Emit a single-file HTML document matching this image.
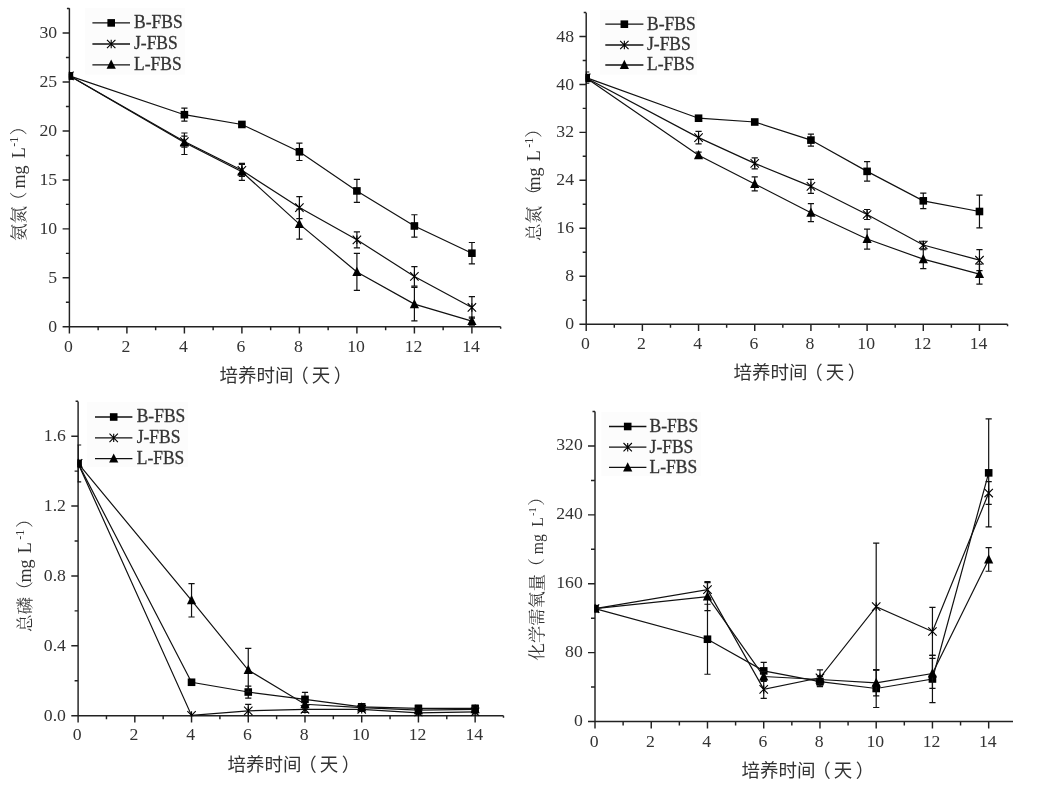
<!DOCTYPE html>
<html lang="zh"><head><meta charset="utf-8"><title>FBS</title>
<style>html,body{margin:0;padding:0;background:#fff}svg{display:block}</style></head>
<body>
<svg width="1037" height="793" viewBox="0 0 1037 793">
<rect width="1037" height="793" fill="#fff"/>
<rect x="85" y="8.2" width="100" height="66.5" fill="#fcfcfc"/>
<path d="M69.4 8.2L69.4 326.8L500.65 326.8M69.4 326.8l0 6.8M98.15 326.8l0 3.5M126.9 326.8l0 6.8M155.65 326.8l0 3.5M184.4 326.8l0 6.8M213.15 326.8l0 3.5M241.9 326.8l0 6.8M270.65 326.8l0 3.5M299.4 326.8l0 6.8M328.15 326.8l0 3.5M356.9 326.8l0 6.8M385.65 326.8l0 3.5M414.4 326.8l0 6.8M443.15 326.8l0 3.5M471.9 326.8l0 6.8M500.65 326.8l0 2.0M69.4 326.8l-6.8 0M69.4 302.32l-3.5 0M69.4 277.84l-6.8 0M69.4 253.35l-3.5 0M69.4 228.87l-6.8 0M69.4 204.39l-3.5 0M69.4 179.91l-6.8 0M69.4 155.42l-3.5 0M69.4 130.94l-6.8 0M69.4 106.46l-3.5 0M69.4 81.98l-6.8 0M69.4 57.49l-3.5 0M69.4 33.01l-6.8 0M69.4 8.53l-2.5 0" stroke="#222222" stroke-width="1.45" fill="none"/>
<g font-family='"Liberation Serif", "Noto Serif CJK SC", serif' font-size="17.7" fill="#333333">
<text x="68.5" y="351.9" text-anchor="middle">0</text>
<text x="126" y="351.9" text-anchor="middle">2</text>
<text x="183.5" y="351.9" text-anchor="middle">4</text>
<text x="241" y="351.9" text-anchor="middle">6</text>
<text x="298.5" y="351.9" text-anchor="middle">8</text>
<text x="356" y="351.9" text-anchor="middle">10</text>
<text x="413.5" y="351.9" text-anchor="middle">12</text>
<text x="471" y="351.9" text-anchor="middle">14</text>
<text x="57.2" y="331.9" text-anchor="end">0</text>
<text x="57.2" y="282.94" text-anchor="end">5</text>
<text x="57.2" y="233.97" text-anchor="end">10</text>
<text x="57.2" y="185.01" text-anchor="end">15</text>
<text x="57.2" y="136.04" text-anchor="end">20</text>
<text x="57.2" y="87.08" text-anchor="end">25</text>
<text x="57.2" y="38.11" text-anchor="end">30</text>
</g>
<text x="219.5" y="382.3" font-family='"Liberation Sans", "Noto Sans CJK SC", sans-serif' font-size="18.5" fill="#333333">培养时间<tspan dx="-3.2">（</tspan><tspan dx="2.8">天</tspan><tspan dx="3.6">）</tspan></text>
<text transform="translate(25 241) rotate(-90)" font-family='"Liberation Serif", "Noto Serif CJK SC", serif' font-size="17.6" fill="#333333"><tspan x="0">氨氮</tspan><tspan x="31.7">（</tspan><tspan x="52.5" font-size="18">mg</tspan><tspan x="82.8" font-size="18">L</tspan><tspan x="94.2" font-size="12" dy="-7">-1</tspan><tspan x="105.7" dy="7">）</tspan></text>
<clipPath id="c1"><rect x="68.8" y="-1.8" width="441.25" height="329.2"/></clipPath>
<g clip-path="url(#c1)">
<path d="M184.4 108.2L184.4 121.2M181.3 108.2l6.2 0M181.3 121.2l6.2 0M241.9 122.46L241.9 126.46M238.8 122.46l6.2 0M238.8 126.46l6.2 0M299.4 143.08L299.4 160.48M296.3 143.08l6.2 0M296.3 160.48l6.2 0M356.9 179.42L356.9 202.42M353.8 179.42l6.2 0M353.8 202.42l6.2 0M414.4 214.76L414.4 237.16M411.3 214.76l6.2 0M411.3 237.16l6.2 0M471.9 242.49L471.9 263.89M468.8 242.49l6.2 0M468.8 263.89l6.2 0" stroke="#111111" stroke-width="1.2" fill="none"/>
<path d="M69.4 75.85L184.4 114.7L241.9 124.46L299.4 151.78L356.9 190.92L414.4 225.96L471.9 253.19" stroke="#111111" stroke-width="1.2" fill="none"/>
<rect x="65.6" y="72.05" width="7.6" height="7.6" fill="#000"/>
<rect x="180.6" y="110.9" width="7.6" height="7.6" fill="#000"/>
<rect x="238.1" y="120.66" width="7.6" height="7.6" fill="#000"/>
<rect x="295.6" y="147.98" width="7.6" height="7.6" fill="#000"/>
<rect x="353.1" y="187.12" width="7.6" height="7.6" fill="#000"/>
<rect x="410.6" y="222.16" width="7.6" height="7.6" fill="#000"/>
<rect x="468.1" y="249.39" width="7.6" height="7.6" fill="#000"/>
<path d="M184.4 136.04L184.4 147.04M181.3 136.04l6.2 0M181.3 147.04l6.2 0M241.9 164.33L241.9 176.33M238.8 164.33l6.2 0M238.8 176.33l6.2 0M299.4 196.61L299.4 218.61M296.3 196.61l6.2 0M296.3 218.61l6.2 0M356.9 231.82L356.9 247.82M353.8 231.82l6.2 0M353.8 247.82l6.2 0M414.4 266.72L414.4 286.12M411.3 266.72l6.2 0M411.3 286.12l6.2 0M471.9 296.66L471.9 318.26M468.8 296.66l6.2 0M468.8 318.26l6.2 0" stroke="#111111" stroke-width="1.2" fill="none"/>
<path d="M69.4 75.85L184.4 141.54L241.9 170.33L299.4 207.61L356.9 239.82L414.4 276.42L471.9 307.46" stroke="#111111" stroke-width="1.2" fill="none"/>
<path d="M65.2 71.65L73.6 80.05M65.2 80.05L73.6 71.65M69.4 71.65L69.4 80.05" stroke="#000" stroke-width="1.1" fill="none"/>
<path d="M180.2 137.34L188.6 145.74M180.2 145.74L188.6 137.34M184.4 137.34L184.4 145.74" stroke="#000" stroke-width="1.1" fill="none"/>
<path d="M237.7 166.13L246.1 174.53M237.7 174.53L246.1 166.13M241.9 166.13L241.9 174.53" stroke="#000" stroke-width="1.1" fill="none"/>
<path d="M295.2 203.41L303.6 211.81M295.2 211.81L303.6 203.41M299.4 203.41L299.4 211.81" stroke="#000" stroke-width="1.1" fill="none"/>
<path d="M352.7 235.62L361.1 244.02M352.7 244.02L361.1 235.62M356.9 235.62L356.9 244.02" stroke="#000" stroke-width="1.1" fill="none"/>
<path d="M410.2 272.22L418.6 280.62M410.2 280.62L418.6 272.22M414.4 272.22L414.4 280.62" stroke="#000" stroke-width="1.1" fill="none"/>
<path d="M467.7 303.26L476.1 311.66M467.7 311.66L476.1 303.26M471.9 303.26L471.9 311.66" stroke="#000" stroke-width="1.1" fill="none"/>
<path d="M184.4 133.01L184.4 154.51M181.3 133.01l6.2 0M181.3 154.51l6.2 0M241.9 163.29L241.9 180.29M238.8 163.29l6.2 0M238.8 180.29l6.2 0M299.4 209.11L299.4 239.11M296.3 209.11l6.2 0M296.3 239.11l6.2 0M356.9 253.43L356.9 290.43M353.8 253.43l6.2 0M353.8 290.43l6.2 0M414.4 287.34L414.4 320.94M411.3 287.34l6.2 0M411.3 320.94l6.2 0M471.9 317.12L471.9 325.12M468.8 317.12l6.2 0M468.8 325.12l6.2 0" stroke="#111111" stroke-width="1.2" fill="none"/>
<path d="M69.4 75.85L184.4 142.51L241.9 171.79L299.4 224.11L356.9 271.93L414.4 304.14L471.9 321.12" stroke="#111111" stroke-width="1.2" fill="none"/>
<path d="M69.4 70.65L74 79.85L64.8 79.85Z" fill="#000"/>
<path d="M184.4 137.31L189 146.51L179.8 146.51Z" fill="#000"/>
<path d="M241.9 166.59L246.5 175.79L237.3 175.79Z" fill="#000"/>
<path d="M299.4 218.91L304 228.11L294.8 228.11Z" fill="#000"/>
<path d="M356.9 266.73L361.5 275.93L352.3 275.93Z" fill="#000"/>
<path d="M414.4 298.94L419 308.14L409.8 308.14Z" fill="#000"/>
<path d="M471.9 315.92L476.5 325.12L467.3 325.12Z" fill="#000"/>
</g>
<g font-family='"Liberation Serif", "Noto Serif CJK SC", serif' font-size="17.5" fill="#333333">
<path d="M92.4 22.9L130 22.9" stroke="#111111" stroke-width="1.3"/>
<rect x="107.4" y="19.1" width="7.6" height="7.6" fill="#000"/>
<text transform="translate(134 28.2) scale(1 1.04)" stroke="#333333" stroke-width="0.3">B-FBS</text>
<path d="M92.4 44.0L130 44.0" stroke="#111111" stroke-width="1.3"/>
<path d="M107 39.8L115.4 48.2M107 48.2L115.4 39.8M111.2 39.8L111.2 48.2" stroke="#000" stroke-width="1.1" fill="none"/>
<text transform="translate(134 49.3) scale(1 1.04)" stroke="#333333" stroke-width="0.3">J-FBS</text>
<path d="M92.4 64.8L130 64.8" stroke="#111111" stroke-width="1.3"/>
<path d="M111.2 59.6L115.8 68.8L106.6 68.8Z" fill="#000"/>
<text transform="translate(134 70.1) scale(1 1.04)" stroke="#333333" stroke-width="0.3">L-FBS</text>
</g>
<rect x="600" y="10.1" width="97" height="64.5" fill="#fcfcfc"/>
<path d="M586.2 12.8L586.2 324.2L1007.55 324.2M586.2 324.2l0 6.8M614.29 324.2l0 3.5M642.38 324.2l0 6.8M670.47 324.2l0 3.5M698.56 324.2l0 6.8M726.65 324.2l0 3.5M754.74 324.2l0 6.8M782.83 324.2l0 3.5M810.92 324.2l0 6.8M839.01 324.2l0 3.5M867.1 324.2l0 6.8M895.19 324.2l0 3.5M923.28 324.2l0 6.8M951.37 324.2l0 3.5M979.46 324.2l0 6.8M1007.55 324.2l0 2.0M586.2 324.2l-6.8 0M586.2 300.22l-3.5 0M586.2 276.24l-6.8 0M586.2 252.26l-3.5 0M586.2 228.28l-6.8 0M586.2 204.3l-3.5 0M586.2 180.32l-6.8 0M586.2 156.34l-3.5 0M586.2 132.36l-6.8 0M586.2 108.38l-3.5 0M586.2 84.4l-6.8 0M586.2 60.42l-3.5 0M586.2 36.44l-6.8 0M586.2 12.46l-2.5 0" stroke="#222222" stroke-width="1.45" fill="none"/>
<g font-family='"Liberation Serif", "Noto Serif CJK SC", serif' font-size="17.7" fill="#333333">
<text x="585.3" y="349.3" text-anchor="middle">0</text>
<text x="641.48" y="349.3" text-anchor="middle">2</text>
<text x="697.66" y="349.3" text-anchor="middle">4</text>
<text x="753.84" y="349.3" text-anchor="middle">6</text>
<text x="810.02" y="349.3" text-anchor="middle">8</text>
<text x="866.2" y="349.3" text-anchor="middle">10</text>
<text x="922.38" y="349.3" text-anchor="middle">12</text>
<text x="978.56" y="349.3" text-anchor="middle">14</text>
<text x="574" y="329.3" text-anchor="end">0</text>
<text x="574" y="281.34" text-anchor="end">8</text>
<text x="574" y="233.38" text-anchor="end">16</text>
<text x="574" y="185.42" text-anchor="end">24</text>
<text x="574" y="137.46" text-anchor="end">32</text>
<text x="574" y="89.5" text-anchor="end">40</text>
<text x="574" y="41.54" text-anchor="end">48</text>
</g>
<text x="733.5" y="379.3" font-family='"Liberation Sans", "Noto Sans CJK SC", sans-serif' font-size="18.5" fill="#333333">培养时间<tspan dx="-3.2">（</tspan><tspan dx="2.8">天</tspan><tspan dx="3.6">）</tspan></text>
<text transform="translate(539.8 241) rotate(-90)" font-family='"Liberation Serif", "Noto Serif CJK SC", serif' font-size="17.6" fill="#333333"><tspan x="0">总氮</tspan><tspan x="37.2">（</tspan><tspan x="50.5" font-size="18">mg</tspan><tspan x="79.8" font-size="18">L</tspan><tspan x="93.2" font-size="12" dy="-7">-1</tspan><tspan x="103.2" dy="7">）</tspan></text>
<clipPath id="c2"><rect x="585.6" y="2.8" width="431.35" height="322"/></clipPath>
<g clip-path="url(#c2)">
<path d="M586.2 72.01L586.2 83.21M583.1 72.01l6.2 0M583.1 83.21l6.2 0M698.56 116.72L698.56 119.72M695.46 116.72l6.2 0M695.46 119.72l6.2 0M754.74 120.5L754.74 123.5M751.64 120.5l6.2 0M751.64 123.5l6.2 0M810.92 134.09L810.92 146.09M807.82 134.09l6.2 0M807.82 146.09l6.2 0M867.1 161.66L867.1 181.06M864 161.66l6.2 0M864 181.06l6.2 0M923.28 193.03L923.28 208.63M920.18 193.03l6.2 0M920.18 208.63l6.2 0M979.46 195.19L979.46 227.79M976.36 195.19l6.2 0M976.36 227.79l6.2 0" stroke="#111111" stroke-width="1.2" fill="none"/>
<path d="M586.2 77.61L698.56 118.22L754.74 122L810.92 140.09L867.1 171.36L923.28 200.83L979.46 211.49" stroke="#111111" stroke-width="1.2" fill="none"/>
<rect x="582.4" y="73.81" width="7.6" height="7.6" fill="#000"/>
<rect x="694.76" y="114.42" width="7.6" height="7.6" fill="#000"/>
<rect x="750.94" y="118.2" width="7.6" height="7.6" fill="#000"/>
<rect x="807.12" y="136.29" width="7.6" height="7.6" fill="#000"/>
<rect x="863.3" y="167.56" width="7.6" height="7.6" fill="#000"/>
<rect x="919.48" y="197.03" width="7.6" height="7.6" fill="#000"/>
<rect x="975.66" y="207.69" width="7.6" height="7.6" fill="#000"/>
<path d="M698.56 131.43L698.56 143.83M695.46 131.43l6.2 0M695.46 143.83l6.2 0M754.74 157.83L754.74 168.83M751.64 157.83l6.2 0M751.64 168.83l6.2 0M810.92 179.33L810.92 193.33M807.82 179.33l6.2 0M807.82 193.33l6.2 0M867.1 209.48L867.1 219.48M864 209.48l6.2 0M864 219.48l6.2 0M923.28 241.23L923.28 248.83M920.18 241.23l6.2 0M920.18 248.83l6.2 0M979.46 249.69L979.46 270.69M976.36 249.69l6.2 0M976.36 270.69l6.2 0" stroke="#111111" stroke-width="1.2" fill="none"/>
<path d="M586.2 77.91L698.56 137.63L754.74 163.33L810.92 186.33L867.1 214.48L923.28 245.03L979.46 260.19" stroke="#111111" stroke-width="1.2" fill="none"/>
<path d="M582 73.71L590.4 82.11M582 82.11L590.4 73.71M586.2 73.71L586.2 82.11" stroke="#000" stroke-width="1.1" fill="none"/>
<path d="M694.36 133.43L702.76 141.83M694.36 141.83L702.76 133.43M698.56 133.43L698.56 141.83" stroke="#000" stroke-width="1.1" fill="none"/>
<path d="M750.54 159.13L758.94 167.53M750.54 167.53L758.94 159.13M754.74 159.13L754.74 167.53" stroke="#000" stroke-width="1.1" fill="none"/>
<path d="M806.72 182.13L815.12 190.53M806.72 190.53L815.12 182.13M810.92 182.13L810.92 190.53" stroke="#000" stroke-width="1.1" fill="none"/>
<path d="M862.9 210.28L871.3 218.68M862.9 218.68L871.3 210.28M867.1 210.28L867.1 218.68" stroke="#000" stroke-width="1.1" fill="none"/>
<path d="M919.08 240.83L927.48 249.23M919.08 249.23L927.48 240.83M923.28 240.83L923.28 249.23" stroke="#000" stroke-width="1.1" fill="none"/>
<path d="M975.26 255.99L983.66 264.39M975.26 264.39L983.66 255.99M979.46 255.99L979.46 264.39" stroke="#000" stroke-width="1.1" fill="none"/>
<path d="M698.56 152.18L698.56 158.18M695.46 152.18l6.2 0M695.46 158.18l6.2 0M754.74 176.93L754.74 190.93M751.64 176.93l6.2 0M751.64 190.93l6.2 0M810.92 203.69L810.92 221.69M807.82 203.69l6.2 0M807.82 221.69l6.2 0M867.1 229.04L867.1 249.04M864 229.04l6.2 0M864 249.04l6.2 0M923.28 249.77L923.28 268.57M920.18 249.77l6.2 0M920.18 268.57l6.2 0M979.46 264.08L979.46 284.08M976.36 264.08l6.2 0M976.36 284.08l6.2 0" stroke="#111111" stroke-width="1.2" fill="none"/>
<path d="M586.2 77.91L698.56 155.18L754.74 183.93L810.92 212.69L867.1 239.04L923.28 259.17L979.46 274.08" stroke="#111111" stroke-width="1.2" fill="none"/>
<path d="M586.2 72.71L590.8 81.91L581.6 81.91Z" fill="#000"/>
<path d="M698.56 149.98L703.16 159.18L693.96 159.18Z" fill="#000"/>
<path d="M754.74 178.73L759.34 187.93L750.14 187.93Z" fill="#000"/>
<path d="M810.92 207.49L815.52 216.69L806.32 216.69Z" fill="#000"/>
<path d="M867.1 233.84L871.7 243.04L862.5 243.04Z" fill="#000"/>
<path d="M923.28 253.97L927.88 263.17L918.68 263.17Z" fill="#000"/>
<path d="M979.46 268.88L984.06 278.08L974.86 278.08Z" fill="#000"/>
</g>
<g font-family='"Liberation Serif", "Noto Serif CJK SC", serif' font-size="17.5" fill="#333333">
<path d="M605.3 24.2L643.4 24.2" stroke="#111111" stroke-width="1.3"/>
<rect x="620.55" y="20.4" width="7.6" height="7.6" fill="#000"/>
<text transform="translate(647 29.5) scale(1 1.04)" stroke="#333333" stroke-width="0.3">B-FBS</text>
<path d="M605.3 45.0L643.4 45.0" stroke="#111111" stroke-width="1.3"/>
<path d="M620.15 40.8L628.55 49.2M620.15 49.2L628.55 40.8M624.35 40.8L624.35 49.2" stroke="#000" stroke-width="1.1" fill="none"/>
<text transform="translate(647 50.3) scale(1 1.04)" stroke="#333333" stroke-width="0.3">J-FBS</text>
<path d="M605.3 65.0L643.4 65.0" stroke="#111111" stroke-width="1.3"/>
<path d="M624.35 59.8L628.95 69L619.75 69Z" fill="#000"/>
<text transform="translate(647 70.3) scale(1 1.04)" stroke="#333333" stroke-width="0.3">L-FBS</text>
</g>
<rect x="87" y="402" width="101" height="65" fill="#fcfcfc"/>
<path d="M78.1 401.5L78.1 715.7L503.5 715.7M78.1 715.7l0 6.8M106.46 715.7l0 3.5M134.82 715.7l0 6.8M163.18 715.7l0 3.5M191.54 715.7l0 6.8M219.9 715.7l0 3.5M248.26 715.7l0 6.8M276.62 715.7l0 3.5M304.98 715.7l0 6.8M333.34 715.7l0 3.5M361.7 715.7l0 6.8M390.06 715.7l0 3.5M418.42 715.7l0 6.8M446.78 715.7l0 3.5M475.14 715.7l0 6.8M503.5 715.7l0 2.0M78.1 715.7l-6.8 0M78.1 680.76l-3.5 0M78.1 645.82l-6.8 0M78.1 610.88l-3.5 0M78.1 575.94l-6.8 0M78.1 541l-3.5 0M78.1 506.06l-6.8 0M78.1 471.12l-3.5 0M78.1 436.18l-6.8 0M78.1 401.24l-2.5 0" stroke="#222222" stroke-width="1.45" fill="none"/>
<g font-family='"Liberation Serif", "Noto Serif CJK SC", serif' font-size="17.7" fill="#333333">
<text x="77.2" y="739.5" text-anchor="middle">0</text>
<text x="133.92" y="739.5" text-anchor="middle">2</text>
<text x="190.64" y="739.5" text-anchor="middle">4</text>
<text x="247.36" y="739.5" text-anchor="middle">6</text>
<text x="304.08" y="739.5" text-anchor="middle">8</text>
<text x="360.8" y="739.5" text-anchor="middle">10</text>
<text x="417.52" y="739.5" text-anchor="middle">12</text>
<text x="474.24" y="739.5" text-anchor="middle">14</text>
<text x="65.9" y="720.8" text-anchor="end">0.0</text>
<text x="65.9" y="650.92" text-anchor="end">0.4</text>
<text x="65.9" y="581.04" text-anchor="end">0.8</text>
<text x="65.9" y="511.16" text-anchor="end">1.2</text>
<text x="65.9" y="441.28" text-anchor="end">1.6</text>
</g>
<text x="227.5" y="771.3" font-family='"Liberation Sans", "Noto Sans CJK SC", sans-serif' font-size="18.5" fill="#333333">培养时间<tspan dx="-3.2">（</tspan><tspan dx="2.8">天</tspan><tspan dx="3.6">）</tspan></text>
<text transform="translate(30.6 632) rotate(-90)" font-family='"Liberation Serif", "Noto Serif CJK SC", serif' font-size="17.6" fill="#333333"><tspan x="0">总磷</tspan><tspan x="33.2">（</tspan><tspan x="49.5" font-size="18">mg</tspan><tspan x="78.8" font-size="18">L</tspan><tspan x="92.2" font-size="12" dy="-7">-1</tspan><tspan x="104.2" dy="7">）</tspan></text>
<clipPath id="c3"><rect x="77.5" y="391.5" width="435.4" height="324.8"/></clipPath>
<g clip-path="url(#c3)">
<path d="M78.1 444.99L78.1 481.79M75 444.99l6.2 0M75 481.79l6.2 0M248.26 686.03L248.26 698.03M245.16 686.03l6.2 0M245.16 698.03l6.2 0M304.98 692.36L304.98 706.36M301.88 692.36l6.2 0M301.88 706.36l6.2 0M361.7 703.85L361.7 709.85M358.6 703.85l6.2 0M358.6 709.85l6.2 0M418.42 705.42L418.42 711.42M415.32 705.42l6.2 0M415.32 711.42l6.2 0M475.14 705.42L475.14 711.42M472.04 705.42l6.2 0M472.04 711.42l6.2 0" stroke="#111111" stroke-width="1.2" fill="none"/>
<path d="M78.1 463.39L191.54 682.26L248.26 692.03L304.98 699.36L361.7 706.85L418.42 708.42L475.14 708.42" stroke="#111111" stroke-width="1.2" fill="none"/>
<rect x="74.3" y="459.59" width="7.6" height="7.6" fill="#000"/>
<rect x="187.74" y="678.46" width="7.6" height="7.6" fill="#000"/>
<rect x="244.46" y="688.23" width="7.6" height="7.6" fill="#000"/>
<rect x="301.18" y="695.56" width="7.6" height="7.6" fill="#000"/>
<rect x="357.9" y="703.05" width="7.6" height="7.6" fill="#000"/>
<rect x="414.62" y="704.62" width="7.6" height="7.6" fill="#000"/>
<rect x="471.34" y="704.62" width="7.6" height="7.6" fill="#000"/>
<path d="M248.26 704.37L248.26 717.37M245.16 704.37l6.2 0M245.16 717.37l6.2 0M304.98 706.3L304.98 712.3M301.88 706.3l6.2 0M301.88 712.3l6.2 0M361.7 707.3L361.7 711.3M358.6 707.3l6.2 0M358.6 711.3l6.2 0M418.42 710.78L418.42 714.78M415.32 710.78l6.2 0M415.32 714.78l6.2 0M475.14 709.91L475.14 713.91M472.04 709.91l6.2 0M472.04 713.91l6.2 0" stroke="#111111" stroke-width="1.2" fill="none"/>
<path d="M78.1 463.39L191.54 715.4L248.26 710.87L304.98 709.3L361.7 709.3L418.42 712.78L475.14 711.91" stroke="#111111" stroke-width="1.2" fill="none"/>
<path d="M73.9 459.19L82.3 467.59M73.9 467.59L82.3 459.19M78.1 459.19L78.1 467.59" stroke="#000" stroke-width="1.1" fill="none"/>
<path d="M187.34 711.2L195.74 719.6M187.34 719.6L195.74 711.2M191.54 711.2L191.54 719.6" stroke="#000" stroke-width="1.1" fill="none"/>
<path d="M244.06 706.67L252.46 715.07M244.06 715.07L252.46 706.67M248.26 706.67L248.26 715.07" stroke="#000" stroke-width="1.1" fill="none"/>
<path d="M300.78 705.1L309.18 713.5M300.78 713.5L309.18 705.1M304.98 705.1L304.98 713.5" stroke="#000" stroke-width="1.1" fill="none"/>
<path d="M357.5 705.1L365.9 713.5M357.5 713.5L365.9 705.1M361.7 705.1L361.7 713.5" stroke="#000" stroke-width="1.1" fill="none"/>
<path d="M414.22 708.58L422.62 716.98M414.22 716.98L422.62 708.58M418.42 708.58L418.42 716.98" stroke="#000" stroke-width="1.1" fill="none"/>
<path d="M470.94 707.71L479.34 716.11M470.94 716.11L479.34 707.71M475.14 707.71L475.14 716.11" stroke="#000" stroke-width="1.1" fill="none"/>
<path d="M191.54 583.6L191.54 617M188.44 583.6l6.2 0M188.44 617l6.2 0M248.26 648.36L248.26 691.76M245.16 648.36l6.2 0M245.16 691.76l6.2 0M304.98 700.24L304.98 708.24M301.88 700.24l6.2 0M301.88 708.24l6.2 0M361.7 704.55L361.7 710.55M358.6 704.55l6.2 0M358.6 710.55l6.2 0M418.42 708.17L418.42 712.17M415.32 708.17l6.2 0M415.32 712.17l6.2 0M475.14 707.3L475.14 711.3M472.04 707.3l6.2 0M472.04 711.3l6.2 0" stroke="#111111" stroke-width="1.2" fill="none"/>
<path d="M78.1 463.39L191.54 600.3L248.26 670.06L304.98 704.24L361.7 707.55L418.42 710.17L475.14 709.3" stroke="#111111" stroke-width="1.2" fill="none"/>
<path d="M78.1 458.19L82.7 467.39L73.5 467.39Z" fill="#000"/>
<path d="M191.54 595.1L196.14 604.3L186.94 604.3Z" fill="#000"/>
<path d="M248.26 664.86L252.86 674.06L243.66 674.06Z" fill="#000"/>
<path d="M304.98 699.04L309.58 708.24L300.38 708.24Z" fill="#000"/>
<path d="M361.7 702.35L366.3 711.55L357.1 711.55Z" fill="#000"/>
<path d="M418.42 704.97L423.02 714.17L413.82 714.17Z" fill="#000"/>
<path d="M475.14 704.1L479.74 713.3L470.54 713.3Z" fill="#000"/>
</g>
<g font-family='"Liberation Serif", "Noto Serif CJK SC", serif' font-size="17.5" fill="#333333">
<path d="M95 417L132.4 417" stroke="#111111" stroke-width="1.3"/>
<rect x="109.9" y="413.2" width="7.6" height="7.6" fill="#000"/>
<text transform="translate(136.7 422.3) scale(1 1.04)" stroke="#333333" stroke-width="0.3">B-FBS</text>
<path d="M95 437.9L132.4 437.9" stroke="#111111" stroke-width="1.3"/>
<path d="M109.5 433.7L117.9 442.1M109.5 442.1L117.9 433.7M113.7 433.7L113.7 442.1" stroke="#000" stroke-width="1.1" fill="none"/>
<text transform="translate(136.7 443.2) scale(1 1.04)" stroke="#333333" stroke-width="0.3">J-FBS</text>
<path d="M95 458.6L132.4 458.6" stroke="#111111" stroke-width="1.3"/>
<path d="M113.7 453.4L118.3 462.6L109.1 462.6Z" fill="#000"/>
<text transform="translate(136.7 463.9) scale(1 1.04)" stroke="#333333" stroke-width="0.3">L-FBS</text>
</g>
<rect x="601.5" y="412" width="99.5" height="64" fill="#fcfcfc"/>
<path d="M595 411.6L595 721.5L1013 721.5M595 721.5l0 7.0M623.12 721.5l0 4.0M651.24 721.5l0 7.0M679.36 721.5l0 4.0M707.48 721.5l0 7.0M735.6 721.5l0 4.0M763.72 721.5l0 7.0M791.84 721.5l0 4.0M819.96 721.5l0 7.0M848.08 721.5l0 4.0M876.2 721.5l0 7.0M904.32 721.5l0 4.0M932.44 721.5l0 7.0M960.56 721.5l0 4.0M988.68 721.5l0 7.0M595 721.5l-7.0 0M595 687.06l-4.0 0M595 652.62l-7.0 0M595 618.18l-4.0 0M595 583.74l-7.0 0M595 549.3l-4.0 0M595 514.86l-7.0 0M595 480.42l-4.0 0M595 445.98l-7.0 0M595 411.54l-2.5 0" stroke="#222222" stroke-width="1.45" fill="none"/>
<g font-family='"Liberation Serif", "Noto Serif CJK SC", serif' font-size="17.7" fill="#333333">
<text x="594.1" y="746.6" text-anchor="middle">0</text>
<text x="650.34" y="746.6" text-anchor="middle">2</text>
<text x="706.58" y="746.6" text-anchor="middle">4</text>
<text x="762.82" y="746.6" text-anchor="middle">6</text>
<text x="819.06" y="746.6" text-anchor="middle">8</text>
<text x="875.3" y="746.6" text-anchor="middle">10</text>
<text x="931.54" y="746.6" text-anchor="middle">12</text>
<text x="987.78" y="746.6" text-anchor="middle">14</text>
<text x="582.8" y="726" text-anchor="end">0</text>
<text x="582.8" y="657.12" text-anchor="end">80</text>
<text x="582.8" y="588.24" text-anchor="end">160</text>
<text x="582.8" y="519.36" text-anchor="end">240</text>
<text x="582.8" y="450.48" text-anchor="end">320</text>
</g>
<text x="741.5" y="777.3" font-family='"Liberation Sans", "Noto Sans CJK SC", sans-serif' font-size="18.5" fill="#333333">培养时间<tspan dx="-3.2">（</tspan><tspan dx="2.8">天</tspan><tspan dx="3.6">）</tspan></text>
<text transform="translate(543 660.4) rotate(-90)" font-family='"Liberation Serif", "Noto Serif CJK SC", serif' font-size="17.3" fill="#333333"><tspan x="0">化学需氧量</tspan><tspan x="85">（</tspan><tspan x="106.2" font-size="15.66">mg</tspan><tspan x="133.7" font-size="15.66">L</tspan><tspan x="144.4" font-size="10.44" dy="-7">-1</tspan><tspan x="154.7" dy="7">）</tspan></text>
<clipPath id="c4"><rect x="594.4" y="401.6" width="431.8" height="320.5"/></clipPath>
<g clip-path="url(#c4)">
<path d="M707.48 604.23L707.48 674.23M704.38 604.23l6.2 0M704.38 674.23l6.2 0M763.72 662.38L763.72 679.38M760.62 662.38l6.2 0M760.62 679.38l6.2 0M819.96 676.58L819.96 686.58M816.86 676.58l6.2 0M816.86 686.58l6.2 0M876.2 669.48L876.2 707.48M873.1 669.48l6.2 0M873.1 707.48l6.2 0M932.44 655.39L932.44 702.59M929.34 655.39l6.2 0M929.34 702.59l6.2 0M988.68 418.86L988.68 526.86M985.58 418.86l6.2 0M985.58 526.86l6.2 0" stroke="#111111" stroke-width="1.2" fill="none"/>
<path d="M595 608.61L707.48 639.23L763.72 670.88L819.96 681.58L876.2 688.48L932.44 678.99L988.68 472.86" stroke="#111111" stroke-width="1.2" fill="none"/>
<rect x="591.2" y="604.81" width="7.6" height="7.6" fill="#000"/>
<rect x="703.68" y="635.43" width="7.6" height="7.6" fill="#000"/>
<rect x="759.92" y="667.09" width="7.6" height="7.6" fill="#000"/>
<rect x="816.16" y="677.78" width="7.6" height="7.6" fill="#000"/>
<rect x="872.4" y="684.68" width="7.6" height="7.6" fill="#000"/>
<rect x="928.64" y="675.19" width="7.6" height="7.6" fill="#000"/>
<rect x="984.88" y="469.06" width="7.6" height="7.6" fill="#000"/>
<path d="M707.48 581.64L707.48 597.64M704.38 581.64l6.2 0M704.38 597.64l6.2 0M763.72 680.34L763.72 698.34M760.62 680.34l6.2 0M760.62 698.34l6.2 0M819.96 669.79L819.96 685.79M816.86 669.79l6.2 0M816.86 685.79l6.2 0M876.2 543.03L876.2 670.23M873.1 543.03l6.2 0M873.1 670.23l6.2 0M932.44 607.47L932.44 655.47M929.34 607.47l6.2 0M929.34 655.47l6.2 0M988.68 481.64L988.68 504.44M985.58 481.64l6.2 0M985.58 504.44l6.2 0" stroke="#111111" stroke-width="1.2" fill="none"/>
<path d="M595 608.61L707.48 589.64L763.72 689.34L819.96 677.79L876.2 606.63L932.44 631.47L988.68 493.04" stroke="#111111" stroke-width="1.2" fill="none"/>
<path d="M590.8 604.41L599.2 612.81M590.8 612.81L599.2 604.41M595 604.41L595 612.81" stroke="#000" stroke-width="1.1" fill="none"/>
<path d="M703.28 585.44L711.68 593.84M703.28 593.84L711.68 585.44M707.48 585.44L707.48 593.84" stroke="#000" stroke-width="1.1" fill="none"/>
<path d="M759.52 685.14L767.92 693.54M759.52 693.54L767.92 685.14M763.72 685.14L763.72 693.54" stroke="#000" stroke-width="1.1" fill="none"/>
<path d="M815.76 673.59L824.16 681.99M815.76 681.99L824.16 673.59M819.96 673.59L819.96 681.99" stroke="#000" stroke-width="1.1" fill="none"/>
<path d="M872 602.43L880.4 610.83M872 610.83L880.4 602.43M876.2 602.43L876.2 610.83" stroke="#000" stroke-width="1.1" fill="none"/>
<path d="M928.24 627.27L936.64 635.67M928.24 635.67L936.64 627.27M932.44 627.27L932.44 635.67" stroke="#000" stroke-width="1.1" fill="none"/>
<path d="M984.48 488.84L992.88 497.24M984.48 497.24L992.88 488.84M988.68 488.84L988.68 497.24" stroke="#000" stroke-width="1.1" fill="none"/>
<path d="M707.48 582.54L707.48 610.54M704.38 582.54l6.2 0M704.38 610.54l6.2 0M763.72 671.49L763.72 681.49M760.62 671.49l6.2 0M760.62 681.49l6.2 0M819.96 675.51L819.96 683.51M816.86 675.51l6.2 0M816.86 683.51l6.2 0M876.2 669.87L876.2 695.87M873.1 669.87l6.2 0M873.1 695.87l6.2 0M932.44 658.47L932.44 688.47M929.34 658.47l6.2 0M929.34 688.47l6.2 0M988.68 547.65L988.68 571.25M985.58 547.65l6.2 0M985.58 571.25l6.2 0" stroke="#111111" stroke-width="1.2" fill="none"/>
<path d="M595 608.61L707.48 596.54L763.72 676.49L819.96 679.51L876.2 682.87L932.44 673.47L988.68 559.45" stroke="#111111" stroke-width="1.2" fill="none"/>
<path d="M595 603.41L599.6 612.61L590.4 612.61Z" fill="#000"/>
<path d="M707.48 591.34L712.08 600.54L702.88 600.54Z" fill="#000"/>
<path d="M763.72 671.29L768.32 680.49L759.12 680.49Z" fill="#000"/>
<path d="M819.96 674.31L824.56 683.51L815.36 683.51Z" fill="#000"/>
<path d="M876.2 677.67L880.8 686.87L871.6 686.87Z" fill="#000"/>
<path d="M932.44 668.27L937.04 677.47L927.84 677.47Z" fill="#000"/>
<path d="M988.68 554.25L993.28 563.45L984.08 563.45Z" fill="#000"/>
</g>
<g font-family='"Liberation Serif", "Noto Serif CJK SC", serif' font-size="17.5" fill="#333333">
<path d="M609.0 426.5L646.4 426.5" stroke="#111111" stroke-width="1.3"/>
<rect x="623.9" y="422.7" width="7.6" height="7.6" fill="#000"/>
<text transform="translate(649.6 431.8) scale(1 1.04)" stroke="#333333" stroke-width="0.3">B-FBS</text>
<path d="M609.0 447.2L646.4 447.2" stroke="#111111" stroke-width="1.3"/>
<path d="M623.5 443L631.9 451.4M623.5 451.4L631.9 443M627.7 443L627.7 451.4" stroke="#000" stroke-width="1.1" fill="none"/>
<text transform="translate(649.6 452.5) scale(1 1.04)" stroke="#333333" stroke-width="0.3">J-FBS</text>
<path d="M609.0 467.4L646.4 467.4" stroke="#111111" stroke-width="1.3"/>
<path d="M627.7 462.2L632.3 471.4L623.1 471.4Z" fill="#000"/>
<text transform="translate(649.6 472.7) scale(1 1.04)" stroke="#333333" stroke-width="0.3">L-FBS</text>
</g>
</svg>
</body></html>
